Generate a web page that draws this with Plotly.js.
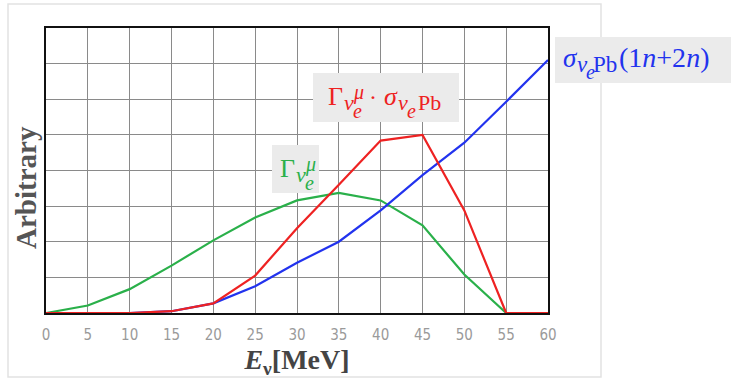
<!DOCTYPE html>
<html>
<head>
<meta charset="utf-8">
<script src="https://cdn.plot.ly/plotly-3.0.1.min.js"></script>
<style>html,body{margin:0;padding:0;background:#fff;}#chart{width:731px;height:380px;}</style>
</head>
<body>
<div id="chart"></div>
<script>
// Energy grid [MeV]
const energy = [0, 5, 10, 15, 20, 25, 30, 35, 40, 45, 50, 55, 60];
// Muon-decay nu_e flux (arbitrary units)
const fluxGamma = [0, 0.21, 0.67, 1.33, 2.04, 2.68, 3.16, 3.37, 3.16, 2.46, 1.08, 0, 0];
// nu_e-Pb cross section (1n+2n) (arbitrary units)
const crossSigma = [0, 0, 0, 0.05, 0.27, 0.75, 1.41, 2.0, 2.88, 3.87, 4.78, 5.93, 7.1];
// Product flux x cross section (arbitrary units)
const product = [0, 0, 0, 0.05, 0.27, 1.05, 2.38, 3.6, 4.84, 5.0, 2.88, 0, 0];
const xTicks = [0, 5, 10, 15, 20, 25, 30, 35, 40, 45, 50, 55, 60];

const RED = '#ee2222', GREEN = '#2ab04a', BLUE = '#2233ee';
const serif = '"Liberation Serif", "DejaVu Serif", serif';
const narrow = '"Liberation Sans Narrow", "DejaVu Sans Condensed", "Noto Sans CJK JP", sans-serif';

// layout geometry (pixels) used to place the math labels piece by piece
const M = {l: 46, r: 183, t: 28, b: 67}, W = 731, H = 380;
const PW = W - M.l - M.r, PH = H - M.t - M.b;
const px2x = p => (p - M.l) / PW;
const px2y = p => (H - M.b - p) / PH;

// label pieces: [text, left px, baseline px, size, italic]
function pieces(color, list) {
  return list.map(([t, left, base, size, it]) => ({
    xref: 'paper', yref: 'paper', x: px2x(left), y: px2y(base - 0.34 * size),
    xanchor: 'left', yanchor: 'middle', showarrow: false, borderpad: 0,
    text: it ? '<i>' + t + '</i>' : t, font: {family: serif, size: size, color: color}
  }));
}
const redLabel = pieces(RED, [
  ['Γ', 327, 105, 26, false], ['ν', 343, 110, 22, true], ['e', 352, 118, 20, true],
  ['μ', 352, 99, 20, true], ['·', 368, 105, 24, false], ['σ', 383, 105, 26, true],
  ['ν', 397, 110, 22, true], ['e', 406, 118, 20, true], ['Pb', 417, 110, 22, false]
]);
const greenLabel = pieces(GREEN, [
  ['Γ', 279, 177, 26, false], ['ν', 295, 182, 22, true], ['e', 304, 190, 20, true],
  ['μ', 304, 171, 20, true]
]);
const blueLabel = pieces(BLUE, [
  ['σ', 562, 67, 27, true], ['ν', 576, 72, 23, true], ['e', 585, 79, 20, true],
  ['Pb', 592, 72, 23, false], ['(1<i>n</i>+2<i>n</i>)', 618, 67, 28, false]
]);
function box(x0, x1, y0, y1) {
  return {type: 'rect', xref: 'paper', yref: 'paper', x0: px2x(x0), x1: px2x(x1), y0: px2y(y1), y1: px2y(y0),
          fillcolor: '#ebebeb', line: {width: 0}, layer: 'above'};
}

const traces = [
  {x: energy, y: fluxGamma, mode: 'lines', line: {color: GREEN, width: 2.2}, name: 'flux'},
  {x: energy, y: crossSigma, mode: 'lines', line: {color: BLUE, width: 2.2}, name: 'sigma'},
  {x: energy, y: product, mode: 'lines', line: {color: RED, width: 2.2}, name: 'product'}
];

const layout = {
  width: W, height: H,
  margin: M,
  paper_bgcolor: '#ffffff', plot_bgcolor: '#ffffff',
  showlegend: false,
  xaxis: {
    range: [0, 60], tickvals: xTicks, ticktext: xTicks.map(String),
    showgrid: true, gridcolor: '#8a8a8a', gridwidth: 1,
    showline: true, mirror: true, linecolor: '#111', linewidth: 2,
    zeroline: false, ticks: '', ticklen: 0, ticklabelstandoff: 7,
    tickfont: {family: narrow, size: 15, color: '#9a9a9a'},
    title: {text: '<b><i>E</i><sub>ν</sub>[MeV]</b>', font: {family: serif, size: 28, color: '#444'}, standoff: 2}
  },
  yaxis: {
    range: [0, 8], dtick: 1, showticklabels: false,
    showgrid: true, gridcolor: '#8a8a8a', gridwidth: 1,
    showline: true, mirror: true, linecolor: '#111', linewidth: 2,
    zeroline: false, ticks: ''
  },
  shapes: [
    {type: 'rect', xref: 'paper', yref: 'paper', x0: px2x(8), x1: px2x(601), y0: px2y(377), y1: px2y(4),
     line: {color: '#e2e2e2', width: 1.5}, fillcolor: 'rgba(0,0,0,0)', layer: 'below'},
    box(313, 459, 73, 122),
    box(272, 319, 145, 193),
    box(555, 735, 37, 83)
  ],
  annotations: [
    {xref: 'paper', yref: 'paper', x: px2x(26), y: px2y(188), xanchor: 'center', yanchor: 'middle',
     showarrow: false, textangle: -90,
     text: '<b>Arbitrary</b>', font: {family: serif, size: 29, color: '#555'}}
  ].concat(redLabel, greenLabel, blueLabel)
};

Plotly.newPlot('chart', traces, layout, {displayModeBar: false, staticPlot: true});
</script>
</body>
</html>
